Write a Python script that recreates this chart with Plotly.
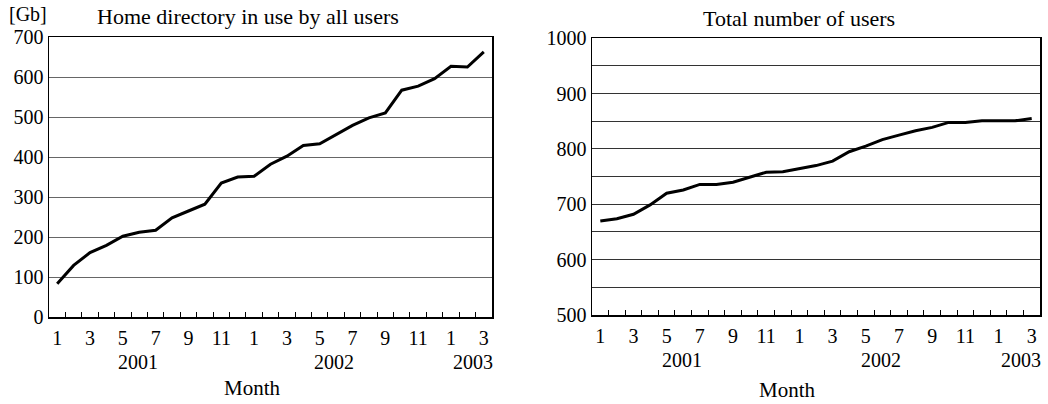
import plotly.graph_objects as go

months = ["2001-01", "2001-02", "2001-03", "2001-04", "2001-05", "2001-06", "2001-07",
          "2001-08", "2001-09", "2001-10", "2001-11", "2001-12",
          "2002-01", "2002-02", "2002-03", "2002-04", "2002-05", "2002-06", "2002-07",
          "2002-08", "2002-09", "2002-10", "2002-11", "2002-12",
          "2003-01", "2003-02", "2003-03"]
month_labels = ["1", "3", "5", "7", "9", "11", "1", "3", "5", "7", "9", "11", "1", "3"]
year_labels = ["2001", "2002", "2003"]
year_pos = [4.9, 16.9, 25.35]

home_gb = [83, 129, 161, 179, 202, 212, 217, 248, 265, 282, 335, 350, 352, 382, 402,
           429, 433, 457, 479, 498, 510, 567, 577, 596, 627, 625, 663]
users = [670, 674, 682, 699, 720, 726, 736, 736, 740, 749, 758, 759, 764, 770, 778,
         795, 805, 817, 825, 833, 839, 848, 848, 851, 851, 851, 855]

left_yticks = [0, 100, 200, 300, 400, 500, 600, 700]
right_yticks = [500, 550, 600, 650, 700, 750, 800, 850, 900, 950, 1000]
right_ylabels = ["500", "", "600", "", "700", "", "800", "", "900", "", "1000"]

idx = list(range(len(months)))
FONT = "Liberation Serif"
W, H = 1048, 404


def px(x):
    return x / W


def py(y):
    return 1 - y / H


fig = go.Figure()
fig.add_trace(go.Scatter(x=idx, y=home_gb, mode="lines", xaxis="x", yaxis="y",
                         line=dict(color="black", width=3), showlegend=False))
fig.add_trace(go.Scatter(x=idx, y=users, mode="lines", xaxis="x2", yaxis="y2",
                         line=dict(color="black", width=3), showlegend=False))


def xaxis(domain, anchor):
    return dict(domain=domain, anchor=anchor, range=[-0.5, len(months) - 0.5],
                tickvals=idx[::2], ticktext=month_labels, ticks="",
                showgrid=False, zeroline=False,
                showline=True, linecolor="black", linewidth=1.5, mirror=True,
                tickfont=dict(family=FONT, size=20, color="black"),
                ticklabelstandoff=2,
                minor=dict(tickvals=[i - 0.5 for i in idx[1:]], ticks="inside",
                           ticklen=5, tickcolor="black", tickwidth=1, showgrid=False),
                automargin=False, fixedrange=True)


def yaxis(domain, anchor, rng, tv, tt, gridcolor):
    return dict(domain=domain, anchor=anchor, range=rng, tickvals=tv, ticktext=tt,
                ticks="", showgrid=True, gridcolor=gridcolor, gridwidth=1,
                zeroline=False, showline=True, linecolor="black", linewidth=1.5,
                mirror=True, tickfont=dict(family=FONT, size=20, color="black"),
                automargin=False, fixedrange=True)


fig.update_layout(
    width=W, height=H,
    margin=dict(l=0, r=0, t=0, b=0),
    paper_bgcolor="white", plot_bgcolor="white",
    xaxis=xaxis([px(49), px(492)], "y"),
    yaxis=yaxis([py(317), py(37)], "x", [0, 700], left_yticks,
                [str(v) for v in left_yticks], "#666666"),
    xaxis2=xaxis([px(592), px(1040)], "y2"),
    yaxis2=yaxis([py(315), py(38.3)], "x2", [500, 1000], right_yticks,
                 right_ylabels, "#333333"),
)


def font(size):
    return dict(family=FONT, size=size, color="black")


annotations = []
for xa, yoff in (("x", 362), ("x2", 360)):
    for lab, p in zip(year_labels, year_pos):
        annotations.append(dict(x=p, y=py(yoff), xref=xa, yref="paper", text=lab,
                                showarrow=False, font=font(20),
                                xanchor="center", yanchor="middle"))
annotations += [
    dict(x=px(252), y=py(388), xref="paper", yref="paper", text="Month",
         showarrow=False, font=font(21), xanchor="center", yanchor="middle"),
    dict(x=px(787), y=py(390), xref="paper", yref="paper", text="Month",
         showarrow=False, font=font(21), xanchor="center", yanchor="middle"),
    dict(x=px(248), y=py(16), xref="paper", yref="paper",
         text="Home directory in use by all users", showarrow=False, font=font(22),
         xanchor="center", yanchor="middle"),
    dict(x=px(799), y=py(18), xref="paper", yref="paper",
         text="Total number of users", showarrow=False, font=font(22),
         xanchor="center", yanchor="middle"),
    dict(x=px(27.5), y=py(14), xref="paper", yref="paper", text="[Gb]",
         showarrow=False, font=font(20), xanchor="center", yanchor="middle"),
]
fig.update_layout(annotations=annotations)

fig.write_html("out.html",
               config={"displayModeBar": False, "staticPlot": True},
               post_script="document.body.style.margin='0';"
                           "document.body.style.overflow='hidden';")
